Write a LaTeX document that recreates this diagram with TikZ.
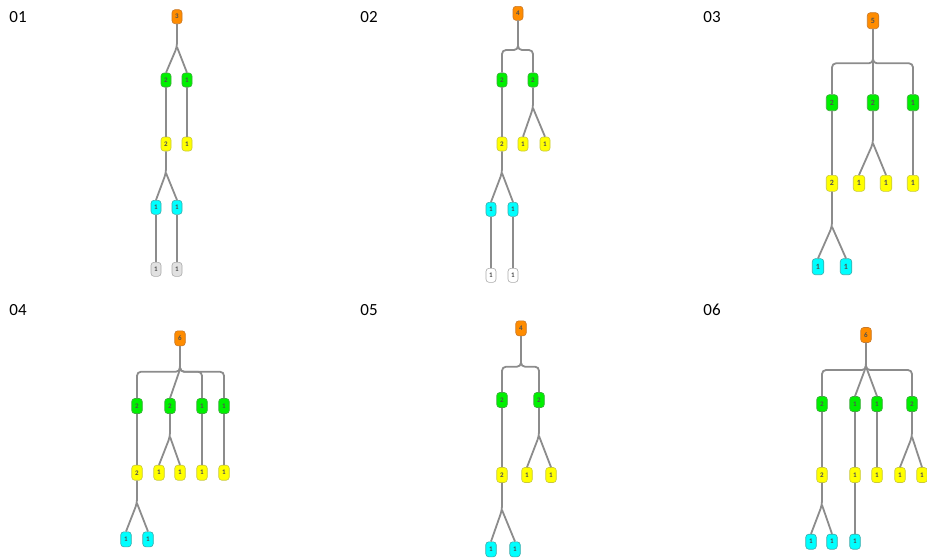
\documentclass[tikz,border=0pt]{standalone}
\usepackage{fontspec}
\setmainfont{Carlito}
\usepackage{tikz}
\usetikzlibrary{calc}
\definecolor{linegray}{RGB}{140,140,140}
\definecolor{textgray}{RGB}{80,80,80}
\definecolor{orangefill}{RGB}{255,140,0}
\definecolor{orangeline}{RGB}{200,120,40}
\definecolor{greenfill}{RGB}{0,240,0}
\definecolor{greenline}{RGB}{60,170,60}
\definecolor{yellowfill}{RGB}{255,255,0}
\definecolor{yellowline}{RGB}{200,200,60}
\definecolor{cyanfill}{RGB}{0,255,255}
\definecolor{cyanline}{RGB}{60,170,170}
\definecolor{greyfill}{RGB}{225,225,225}
\definecolor{greyline}{RGB}{170,170,170}
\tikzstyle{connector} = [line width=1.8pt, draw=linegray, rounded corners=4pt]
\tikzstyle{box} = [rectangle, rounded corners=3pt, draw, line width=0.6pt, minimum width=10pt, minimum height=14pt, inner sep=0pt, text=textgray, font=\fontsize{7}{8}\selectfont\bfseries]
\tikzstyle{big} = [minimum width=11.5pt, minimum height=16pt, font=\fontsize{8}{9}\selectfont\bfseries]
\tikzstyle{mid} = [minimum width=10.5pt, minimum height=15pt]
\tikzstyle{total} = [box, fill=orangefill, draw=orangeline]
\tikzstyle{first} = [box, fill=greenfill, draw=greenline]
\tikzstyle{second} = [box, fill=yellowfill, draw=yellowline]
\tikzstyle{third} = [box, fill=cyanfill, draw=cyanline]
\tikzstyle{fourth} = [box, fill=greyfill, draw=greyline]
\tikzstyle{empty} = [box, fill=white, draw=greyline]
\tikzstyle{caption} = [font=\fontsize{17}{20}\selectfont]

\begin{document}
\begin{tikzpicture}[x=1pt, y=-1pt]
        \useasboundingbox (0,0) rectangle (927,558);
        % panel labels
        \node (label-1) [caption] at (18,17) {01};
        \node (label-2) [caption] at (369,17) {02};
        \node (label-3) [caption] at (712,17) {03};
        \node (label-4) [caption] at (18,310) {04};
        \node (label-5) [caption] at (369,310) {05};
        \node (label-6) [caption] at (712,310) {06};
        % panel 01
        \node (p1-root) [total] at (177,16.7) {3};
        \node (p1-g1) [first] at (166,80) {2};
        \node (p1-g2) [first] at (187,80) {1};
        \node (p1-y1) [second] at (166,144) {2};
        \node (p1-y2) [second] at (187,144) {1};
        \node (p1-c1) [third] at (156,207.3) {1};
        \node (p1-c2) [third] at (177,207.3) {1};
        \node (p1-w1) [fourth] at (156,269.3) {1};
        \node (p1-w2) [fourth] at (177,269.3) {1};
        \coordinate (p1-s1) at (177,47);
        \coordinate (p1-s2) at (166,173);
        \draw [connector] (p1-root.south) -- (p1-s1) -- (p1-g1.north);
        \draw [connector] (p1-s1) -- (p1-g2.north);
        \draw [connector] (p1-g1.south) -- (p1-y1.north);
        \draw [connector] (p1-g2.south) -- (p1-y2.north);
        \draw [connector] (p1-y1.south) -- (p1-s2) -- (p1-c1.north);
        \draw [connector] (p1-s2) -- (p1-c2.north);
        \draw [connector] (p1-c1.south) -- (p1-w1.north);
        \draw [connector] (p1-c2.south) -- (p1-w2.north);
        % panel 02
        \node (p2-root) [total] at (518,13.3) {4};
        \node (p2-g1) [first] at (502,80) {2};
        \node (p2-g2) [first] at (533,80) {2};
        \node (p2-y1) [second] at (502,144) {2};
        \node (p2-y2) [second] at (523,144) {1};
        \node (p2-y3) [second] at (545,144) {1};
        \node (p2-c1) [third] at (491,209.3) {1};
        \node (p2-c2) [third] at (513,209.3) {1};
        \node (p2-w1) [empty] at (491,275.3) {1};
        \node (p2-w2) [empty] at (513,275.3) {1};
        \coordinate (p2-bar) at (518,50);
        \coordinate (p2-s2) at (533,108);
        \coordinate (p2-s3) at (502,173);
        \draw [connector] (p2-root.south) -- (p2-bar) -| (p2-g1.north);
        \draw [connector] (p2-root.south) -- (p2-bar) -| (p2-g2.north);
        \draw [connector] (p2-g1.south) -- (p2-y1.north);
        \draw [connector] (p2-g2.south) -- (p2-s2) -- (p2-y2.north);
        \draw [connector] (p2-s2) -- (p2-y3.north);
        \draw [connector] (p2-y1.south) -- (p2-s3) -- (p2-c1.north);
        \draw [connector] (p2-s3) -- (p2-c2.north);
        \draw [connector] (p2-c1.south) -- (p2-w1.north);
        \draw [connector] (p2-c2.south) -- (p2-w2.north);
        % panel 03
        \node (p3-root) [total, big] at (873,20.7) {5};
        \node (p3-g1) [first, big] at (832,102.7) {2};
        \node (p3-g2) [first, big] at (873,102.7) {2};
        \node (p3-g3) [first, big] at (913,102.7) {1};
        \node (p3-y1) [second, big] at (832,183.3) {2};
        \node (p3-y2) [second, big] at (859,183.3) {1};
        \node (p3-y3) [second, big] at (886,183.3) {1};
        \node (p3-y4) [second, big] at (913,183.3) {1};
        \node (p3-c1) [third, big] at (818,266.7) {1};
        \node (p3-c2) [third, big] at (846,266.7) {1};
        \coordinate (p3-bar) at (873,63.3);
        \coordinate (p3-s2) at (873,143.3);
        \coordinate (p3-s3) at (832,226.7);
        \draw [connector] (p3-root.south) -- (p3-bar) -| (p3-g1.north);
        \draw [connector] (p3-root.south) -- (p3-g2.north);
        \draw [connector] (p3-root.south) -- (p3-bar) -| (p3-g3.north);
        \draw [connector] (p3-g1.south) -- (p3-y1.north);
        \draw [connector] (p3-g2.south) -- (p3-s2) -- (p3-y2.north);
        \draw [connector] (p3-s2) -- (p3-y3.north);
        \draw [connector] (p3-g3.south) -- (p3-y4.north);
        \draw [connector] (p3-y1.south) -- (p3-s3) -- (p3-c1.north);
        \draw [connector] (p3-s3) -- (p3-c2.north);
        % panel 04
        \node (p4-root) [total, mid] at (180,338.3) {6};
        \node (p4-g1) [first, mid] at (137,406) {2};
        \node (p4-g2) [first, mid] at (170,406) {2};
        \node (p4-g3) [first, mid] at (202,406) {1};
        \node (p4-g4) [first, mid] at (224,406) {1};
        \node (p4-y1) [second, mid] at (137,472.7) {2};
        \node (p4-y2) [second, mid] at (159,472.7) {1};
        \node (p4-y3) [second, mid] at (180,472.7) {1};
        \node (p4-y4) [second, mid] at (202,472.7) {1};
        \node (p4-y5) [second, mid] at (224,472.7) {1};
        \node (p4-c1) [third, mid] at (126,539.3) {1};
        \node (p4-c2) [third, mid] at (148,539.3) {1};
        \coordinate (p4-j) at (180,369.3);
        \coordinate (p4-bar) at (180,371.7);
        \coordinate (p4-s2) at (170,436.7);
        \coordinate (p4-s3) at (137,503.3);
        \draw [connector] (p4-root.south) -- (p4-bar) -| (p4-g1.north);
        \draw [connector] (p4-root.south) -- (p4-j) -- (p4-g2.north);
        \draw [connector] (p4-root.south) -- (p4-bar) -| (p4-g3.north);
        \draw [connector] (p4-root.south) -- (p4-bar) -| (p4-g4.north);
        \draw [connector] (p4-g1.south) -- (p4-y1.north);
        \draw [connector] (p4-g2.south) -- (p4-s2) -- (p4-y2.north);
        \draw [connector] (p4-s2) -- (p4-y3.north);
        \draw [connector] (p4-g3.south) -- (p4-y4.north);
        \draw [connector] (p4-g4.south) -- (p4-y5.north);
        \draw [connector] (p4-y1.south) -- (p4-s3) -- (p4-c1.north);
        \draw [connector] (p4-s3) -- (p4-c2.north);
        % panel 05
        \node (p5-root) [total, mid] at (521,328.3) {4};
        \node (p5-g1) [first, mid] at (502,400) {2};
        \node (p5-g2) [first, mid] at (539,400) {2};
        \node (p5-y1) [second, mid] at (502,475) {2};
        \node (p5-y2) [second, mid] at (527,475) {1};
        \node (p5-y3) [second, mid] at (551,475) {1};
        \node (p5-c1) [third, mid] at (491,549.3) {1};
        \node (p5-c2) [third, mid] at (515,549.3) {1};
        \coordinate (p5-bar) at (521,366.7);
        \coordinate (p5-s2) at (539,436);
        \coordinate (p5-s3) at (502,510);
        \draw [connector] (p5-root.south) -- (p5-bar) -| (p5-g1.north);
        \draw [connector] (p5-root.south) -- (p5-bar) -| (p5-g2.north);
        \draw [connector] (p5-g1.south) -- (p5-y1.north);
        \draw [connector] (p5-g2.south) -- (p5-s2) -- (p5-y2.north);
        \draw [connector] (p5-s2) -- (p5-y3.north);
        \draw [connector] (p5-y1.south) -- (p5-s3) -- (p5-c1.north);
        \draw [connector] (p5-s3) -- (p5-c2.north);
        % panel 06
        \node (p6-root) [total, mid] at (866,335) {6};
        \node (p6-g1) [first, mid] at (822,404) {2};
        \node (p6-g2) [first, mid] at (855,404) {1};
        \node (p6-g3) [first, mid] at (877,404) {1};
        \node (p6-g4) [first, mid] at (912,404) {2};
        \node (p6-y1) [second, mid] at (822,475) {2};
        \node (p6-y2) [second, mid] at (855,475) {1};
        \node (p6-y3) [second, mid] at (877,475) {1};
        \node (p6-y4) [second, mid] at (900,475) {1};
        \node (p6-y5) [second, mid] at (922,475) {1};
        \node (p6-c1) [third, mid] at (811,541.7) {1};
        \node (p6-c2) [third, mid] at (832,541.7) {1};
        \node (p6-c3) [third, mid] at (855,541.7) {1};
        \coordinate (p6-j) at (866,366.7);
        \coordinate (p6-bar) at (866,370);
        \coordinate (p6-s4) at (912,436.7);
        \coordinate (p6-s1) at (822,505);
        \draw [connector] (p6-root.south) -- (p6-bar) -| (p6-g1.north);
        \draw [connector] (p6-root.south) -- (p6-j) -- (p6-g2.north);
        \draw [connector] (p6-j) -- (p6-g3.north);
        \draw [connector] (p6-root.south) -- (p6-bar) -| (p6-g4.north);
        \draw [connector] (p6-g1.south) -- (p6-y1.north);
        \draw [connector] (p6-g2.south) -- (p6-y2.north);
        \draw [connector] (p6-g3.south) -- (p6-y3.north);
        \draw [connector] (p6-g4.south) -- (p6-s4) -- (p6-y4.north);
        \draw [connector] (p6-s4) -- (p6-y5.north);
        \draw [connector] (p6-y1.south) -- (p6-s1) -- (p6-c1.north);
        \draw [connector] (p6-s1) -- (p6-c2.north);
        \draw [connector] (p6-y2.south) -- (p6-c3.north);
    \end{tikzpicture}
\end{document}
